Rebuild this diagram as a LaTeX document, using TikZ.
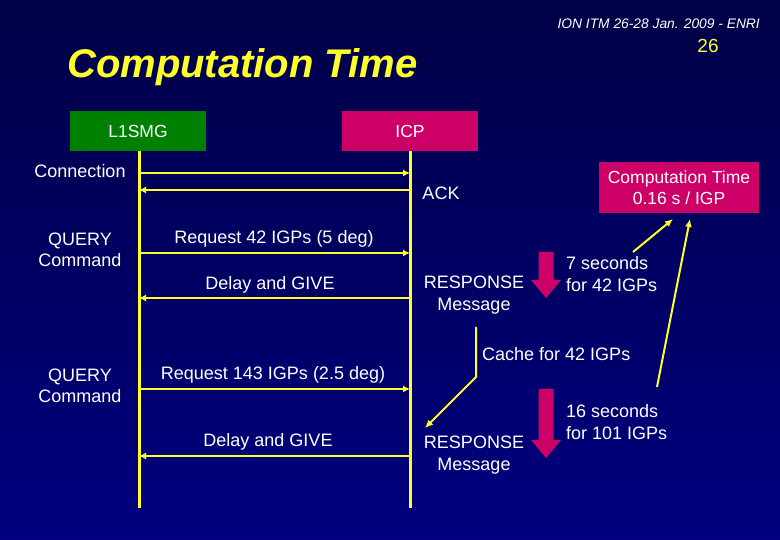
\documentclass[tikz,border=0pt]{standalone}
\usepackage{fontspec}
\setmainfont{Liberation Sans}
\usetikzlibrary{arrows.meta}
\definecolor{bgtop}{RGB}{0,0,70}
\definecolor{bgbot}{RGB}{0,0,128}
\definecolor{boxgreen}{RGB}{0,128,0}
\definecolor{boxmag}{RGB}{204,0,102}
\definecolor{ylw}{RGB}{255,255,40}
\tikzset{
  actor/.style={fill=#1, minimum width=136pt, minimum height=40pt, inner sep=0pt, text=white, font=\fontsize{17.5}{20}\selectfont},
  lbl/.style={text=white, font=\fontsize{18}{21.5}\selectfont, align=center, inner sep=0pt},
  lifeline/.style={draw=ylw, line width=3pt},
  msg/.style={draw=ylw, line width=2.8pt, -{Latex[length=7pt,width=7pt]}},
  thin/.style={draw=ylw, line width=2pt, -{Latex[length=8pt,width=7pt]}},
}
\begin{document}
\begin{tikzpicture}[x=1pt,y=-1pt]
\shade[top color=bgtop, bottom color=bgbot] (0,0) rectangle (780,540);
\useasboundingbox (0,0) rectangle (780,540);

% header
\node[anchor=base east, text=white, inner sep=0pt, font=\itshape\fontsize{13.8}{16}\selectfont] (hdr) at (760,29) {ION ITM 26-28 Jan. 2009 - ENRI};
\node[anchor=base, text=ylw, inner sep=0pt, font=\fontsize{19}{21}\selectfont] (pg) at (708,53) {26};
\node[anchor=base west, text=ylw, inner sep=0pt, font=\bfseries\itshape\fontsize{40}{44}\selectfont] (title) at (67,78) {Computation Time};

% actors
\node[actor=boxgreen] (l1) at (138,131) {L1SMG};
\node[actor=boxmag] (icp) at (410,131) {ICP};
\coordinate (l1end) at (139,508);
\coordinate (icpend) at (410,508);
\draw[lifeline] (l1.south -| l1end) -- (l1end);
\draw[lifeline] (icp.south) -- (icpend);

% message coordinates
\coordinate (a1) at (139,173); \coordinate (b1) at (410,173);
\coordinate (a2) at (139,190); \coordinate (b2) at (410,190);
\coordinate (a3) at (139,253); \coordinate (b3) at (410,253);
\coordinate (a4) at (139,298); \coordinate (b4) at (410,298);
\coordinate (a5) at (139,389); \coordinate (b5) at (410,389);
\coordinate (a6) at (139,456); \coordinate (b6) at (410,456);
\draw[msg] (a1) -- (b1);
\draw[msg] (b2) -- (a2);
\draw[msg] (a3) -- (b3);
\draw[msg] (b4) -- (a4);
\draw[msg] (a5) -- (b5);
\draw[msg] (b6) -- (a6);

% labels
\node[lbl] (conn) at (80,171) {Connection};
\node[lbl] (ack) at (441,193) {ACK};
\node[lbl] (q1) at (80,250) {QUERY\\Command};
\node[lbl] (r42) at (274,239) {Request 42 IGPs (5 deg)};
\node[lbl] (d1) at (270,285) {Delay and GIVE};
\node[lbl] (resp1) at (474,295) {RESPONSE\\Message};
\node[lbl] (q2) at (80,386) {QUERY\\Command};
\node[lbl] (r143) at (273,375) {Request 143 IGPs (2.5 deg)};
\node[lbl] (d2) at (268,442) {Delay and GIVE};
\node[lbl] (resp2) at (474,455) {RESPONSE\\Message};

% block arrows
\fill[boxmag] (538.5,252) -- (553.5,252) -- (553.5,280) -- (561,280) -- (546,298) -- (531,280) -- (538.5,280) -- cycle;
\fill[boxmag] (538.5,389) -- (553.5,389) -- (553.5,440) -- (561,440) -- (546,458) -- (531,440) -- (538.5,440) -- cycle;

\node[lbl, align=left, anchor=west] (s7) at (566,274) {7 seconds\\for 42 IGPs};
\node[lbl, align=left, anchor=west] (s16) at (566,422) {16 seconds\\for 101 IGPs};

% computation time box
\node[fill=boxmag, minimum width=160pt, minimum height=51pt, inner sep=0pt, text=white, align=center, font=\fontsize{17.5}{21}\selectfont] (ct) at (679,187.5) {Computation Time\\0.16 s / IGP};
\coordinate (c7) at (633,252);
\coordinate (c16) at (657,387);
\draw[thin] (c7) -- (673,219);
\draw[thin] (c16) -- (690,219);

% cache
\coordinate (ca) at (476,327);
\coordinate (cb) at (476,377);
\coordinate (cc) at (425,428);
\draw[thin] (ca) -- (cb) -- (cc);
\node[lbl, anchor=west] (cache) at (482,354) {Cache for 42 IGPs};
\end{tikzpicture}
\end{document}
